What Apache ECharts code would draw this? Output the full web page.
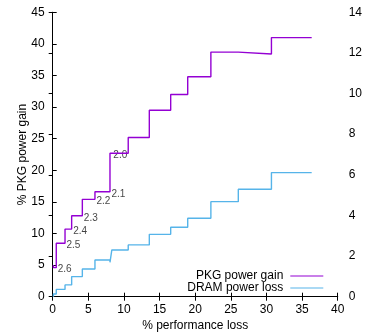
<!DOCTYPE html>
<html>
<head>
<meta charset="utf-8">
<script src="https://cdn.jsdelivr.net/npm/echarts@6/dist/echarts.min.js"></script>
<style>
  html, body { margin: 0; padding: 0; background: #fff; }
  #chart { width: 365px; height: 334px; }
</style>
</head>
<body>
<div id="chart"></div>
<script>
// Performance loss (%) at each frequency step, with the matching power figures.
const perfLoss = [0.1, 0.5, 1.73, 2.66, 4.16, 5.93, 8.04, 8.3, 10.6, 13.56, 16.56, 18.95, 22.2, 26.05, 30.7, 36.35];
const pkgGain  = [5.0, 4.6, 8.45, 10.7, 12.8, 15.4, 16.6, 22.7, 22.7, 25.2, 29.5, 32.0, 34.8, 38.7, 38.4, 41.0];
const dramLoss = [0, 0.13, 0.36, 0.58, 0.99, 1.36, 1.81, 1.69, 2.3, 2.55, 3.07, 3.42, 3.86, 4.68, 5.29, 6.11];
// Frequency (GHz) annotations on the PKG curve; empty entries are left unlabeled.
const freqLabels = ['', '2.6', '2.5', '2.4', '2.3', '2.2', '2.1', '2.0', '', '', '', '', '', '', '', ''];

const xTicks = { min: 0, max: 40, interval: 5 };
const yLeftTicks = { min: 0, max: 45, interval: 5 };
const yRightTicks = { min: 0, max: 14, interval: 2 };

const FONT = 'Liberation Sans, Arial, Helvetica, sans-serif';
const PURPLE = '#9400d3';
const BLUE = '#56b4e9';

const pkgPoints = perfLoss.map((x, i) => [x, pkgGain[i]]);
const dramPoints = perfLoss.map((x, i) => [x, dramLoss[i]]);
const labelPoints = perfLoss
  .map((x, i) => ({ value: [x, pkgGain[i]], name: freqLabels[i] }))
  .filter(p => p.name !== '');

const axisLine = { show: true, lineStyle: { color: '#000', width: 1 } };
const axisTick = { show: true, inside: true, length: 4, lineStyle: { color: '#000', width: 1 } };
const axisLabel = { color: '#000', fontFamily: FONT, fontSize: 12 };

const chart = echarts.init(document.getElementById('chart'), null, { renderer: 'canvas' });
chart.setOption({
  animation: false,
  backgroundColor: '#fff',
  grid: { left: 52.7, right: 27.3, top: 12.3, bottom: 37.3, containLabel: false, outerBoundsMode: 'none' },
  legend: {
    orient: 'vertical',
    right: 41.7,
    bottom: 40,
    align: 'right',
    padding: 0,
    itemGap: 0,
    itemWidth: 33,
    itemHeight: 1.2,
    icon: 'rect',
    textStyle: { color: '#000', fontFamily: FONT, fontSize: 12, lineHeight: 12, padding: [0, 2, 0, 0] },
    data: ['PKG power gain', 'DRAM power loss']
  },
  xAxis: [
    {
      type: 'value', position: 'bottom', ...xTicks,
      name: '% performance loss', nameLocation: 'middle', nameGap: 23, nameMoveOverlap: false,
      nameTextStyle: { color: '#000', fontFamily: FONT, fontSize: 12 },
      axisLine, axisTick, axisLabel: { ...axisLabel, margin: 7 },
      splitLine: { show: false }
    },
    {
      type: 'value', position: 'top', ...xTicks,
      axisLine, axisTick, axisLabel: { show: false },
      splitLine: { show: false }
    }
  ],
  yAxis: [
    {
      type: 'value', position: 'left', ...yLeftTicks,
      name: '% PKG power gain', nameLocation: 'middle', nameGap: 24, nameMoveOverlap: false,
      nameTextStyle: { color: '#000', fontFamily: FONT, fontSize: 12 },
      axisLine, axisTick, axisLabel: { ...axisLabel, margin: 8 },
      splitLine: { show: false }
    },
    {
      type: 'value', position: 'right', ...yRightTicks,
      axisLine, axisTick, axisLabel: { ...axisLabel, margin: 11 },
      splitLine: { show: false }
    }
  ],
  series: [
    {
      name: 'PKG power gain', type: 'line', step: 'start',
      xAxisIndex: 0, yAxisIndex: 0,
      data: pkgPoints, symbol: 'none',
      itemStyle: { color: PURPLE },
      lineStyle: { color: PURPLE, width: 1.4 }
    },
    {
      name: 'DRAM power loss', type: 'line', step: 'start',
      xAxisIndex: 0, yAxisIndex: 1,
      data: dramPoints, symbol: 'none',
      itemStyle: { color: BLUE },
      lineStyle: { color: BLUE, width: 1.4 }
    },
    {
      name: 'freq', type: 'scatter',
      xAxisIndex: 0, yAxisIndex: 0,
      data: labelPoints, symbolSize: 1,
      itemStyle: { color: 'transparent' },
      silent: true,
      label: {
        show: true, position: 'right', distance: 1, offset: [0, 2],
        formatter: p => p.name,
        color: '#111', fontFamily: FONT, fontSize: 10
      }
    }
  ]
});
</script>
</body>
</html>
